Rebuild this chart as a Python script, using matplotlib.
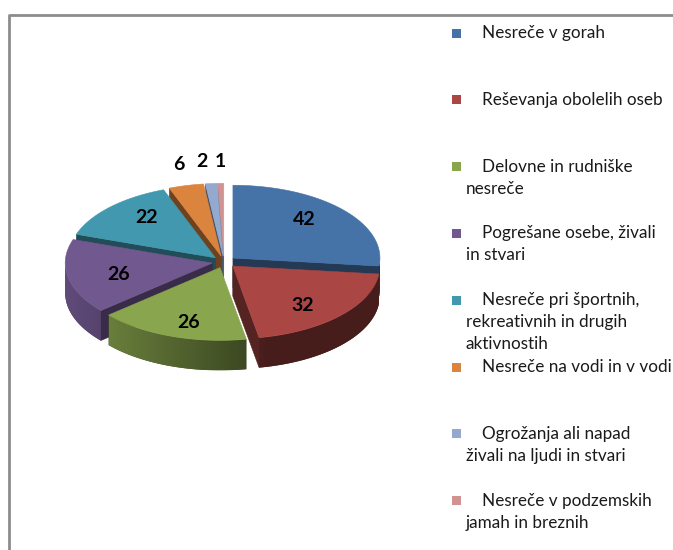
import numpy as np
import matplotlib
matplotlib.use('Agg')
import matplotlib.pyplot as plt
from matplotlib.patches import Polygon, Rectangle
from matplotlib.colors import to_rgb

plt.rcParams['font.family'] = ['Lato', 'DejaVu Sans']

categories = [
    "Nesreče v gorah",
    "Reševanja obolelih oseb",
    "Delovne in rudniške\nnesreče",
    "Pogrešane osebe, živali\nin stvari",
    "Nesreče pri športnih,\nrekreativnih in drugih\naktivnostih",
    "Nesreče na vodi in v vodi",
    "Ogrožanja ali napad\nživali na ljudi in stvari",
    "Nesreče v podzemskih\njamah in breznih",
]
values = [42, 32, 26, 26, 22, 6, 2, 1]
colors = ['#4572A7', '#AA4643', '#89A54E', '#71588F', '#4198AF',
          '#DB843D', '#93A9CF', '#D19392']

W, H = 673, 550
fig = plt.figure(figsize=(W / 100, H / 100), dpi=100)
ax = fig.add_axes([0, 0, 1, 1])
ax.set_xlim(0, W)
ax.set_ylim(H, 0)
ax.axis('off')

# frame of chart area
ax.plot([9, 9, W + 5], [H + 5, 15, 15], color='#8c8c8c', lw=2, solid_capstyle='butt')

# pie geometry
cx, cy = 224, 262
R = 147
ratio = 0.495
depth = 30
explode = 12

vals = np.array(values, dtype=float)
fr = vals / vals.sum()
ends = np.cumsum(fr) * 360.0
starts = ends - fr * 360.0
bis = (starts + ends) / 2


def pt(theta, r, b, z=0.0):
    t = np.radians(theta)
    bb = np.radians(b)
    x = cx + explode * np.sin(bb) + r * np.sin(t)
    y = cy - explode * np.cos(bb) * ratio - r * np.cos(t) * ratio + z
    return np.column_stack([np.atleast_1d(x), np.atleast_1d(y)])


def shade(c, f):
    r, g, b = to_rgb(c)
    return (r * f, g * f, b * f)


order = np.argsort(-np.cos(np.radians(bis)))
for i in order:
    a, b, m, col = starts[i], ends[i], bis[i], colors[i]
    v_top = pt(0, 0, m)[0]
    v_bot = v_top + np.array([0, depth])
    # radial faces
    faces = []
    if 180 < a < 360:
        faces.append(a)
    if 0 < b < 180:
        faces.append(b)
    for th in faces:
        rim = pt(th, R, m)[0]
        poly = [v_top, rim, rim + [0, depth], v_bot]
        ax.add_patch(Polygon(poly, closed=True, fc=shade(col, 0.5),
                             ec=shade(col, 0.5), lw=0.4, zorder=2))
    # outer wall with horizontal gradient
    lo, hi = max(a, 90), min(b, 270)
    if hi > lo:
        th = np.linspace(lo, hi, int((hi - lo) / 1.0) + 2)
        top = pt(th, R, m)
        bot = top + [0, depth]
        wall = np.vstack([top, bot[::-1]])
        wp = Polygon(wall, closed=True, fc=shade(col, 0.5), ec='none', zorder=2)
        ax.add_patch(wp)
        x0, x1 = wall[:, 0].min(), wall[:, 0].max()
        y0, y1 = wall[:, 1].min(), wall[:, 1].max()
        xs = np.linspace(x0, x1, 200)
        xc = cx + explode * np.sin(np.radians(m))
        f = np.clip(0.5 + 0.35 * (-(xs - xc) / R), 0.42, 0.88)
        base = np.array(to_rgb(col))
        img = (f[None, :, None] * base[None, None, :]).repeat(2, axis=0)
        im = ax.imshow(img, extent=(x0, x1, y1, y0), origin='upper',
                       aspect='auto', zorder=2.1, interpolation='bilinear')
        im.set_clip_path(wp)
    # top face
    th = np.linspace(a, b, max(int((b - a) / 1.0), 2) + 1)
    arc = pt(th, R, m)
    poly = np.vstack([v_top, arc])
    ax.add_patch(Polygon(poly, closed=True, fc=col, ec=col, lw=0.4, zorder=2.2))

ax.set_xlim(0, W)
ax.set_ylim(H, 0)

# data labels
out_x = []
for i in range(len(values)):
    m = bis[i]
    t = np.radians(m)
    if fr[i] >= 0.05:
        x = cx + (explode + 0.65 * R) * np.sin(t)
        y = cy - (explode * ratio + 0.8 * R * ratio) * np.cos(t)
        ax.text(x, y, str(values[i]), ha='center', va='center',
                fontsize=14, fontweight='bold', color='black', zorder=5)
    else:
        x = cx + (explode + 1.2 * R) * np.sin(t)
        y = cy - (explode * ratio + 1.3 * R * ratio) * np.cos(t)
        out_x.append([i, x, y])

# keep outside labels apart (right to left)
out_x.sort(key=lambda e: -e[1])
prev = None
for e in out_x:
    if prev is not None and e[1] > prev - 18:
        e[1] = prev - 18
    prev = e[1]
    ax.text(e[1], e[2], str(values[e[0]]), ha='center', va='center',
            fontsize=14, fontweight='bold', color='black', zorder=5)

# legend
lx_sq, lx_t1, lx_t2 = 452, 482, 466
ly0, lstep, lline = 33, 66.8, 22
for i, (name, col) in enumerate(zip(categories, colors)):
    y = ly0 + i * lstep
    ax.add_patch(Rectangle((lx_sq, y - 4.5), 9, 9, fc=col, ec='none', zorder=5))
    for j, line in enumerate(name.split('\n')):
        ax.text(lx_t1 if j == 0 else lx_t2, y + j * lline, line, ha='left',
                va='center', fontsize=12.3, color='#1a1a1a', zorder=5)

fig.savefig('out.png', dpi=100)
